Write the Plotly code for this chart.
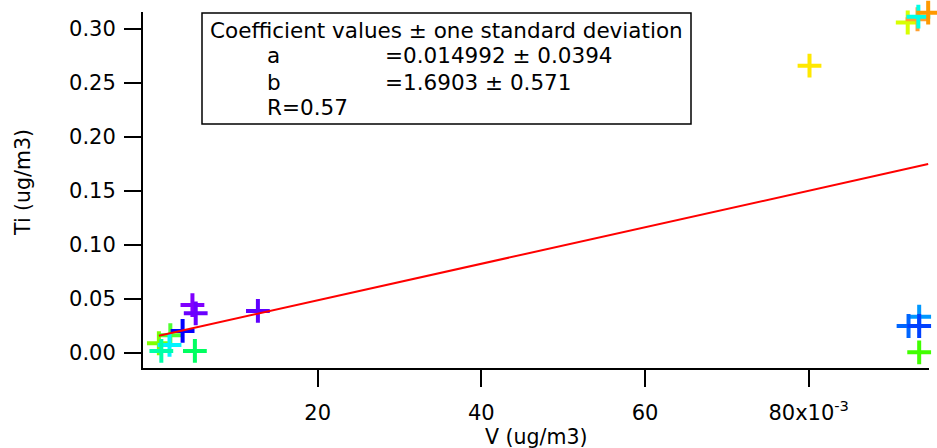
import plotly.graph_objects as go

# Measured concentrations (ug/m3)
v_ugm3 = [0.0006, 0.0020, 0.0019, 0.0009, 0.0050, 0.0035, 0.0047, 0.0051, 0.0127,
          0.0801, 0.0921, 0.0933, 0.0934, 0.0946,
          0.0935, 0.0922, 0.0935, 0.0935]
ti_ugm3 = [0.0090, 0.0165, 0.0075, 0.0019, 0.0019, 0.0204, 0.0444, 0.0367, 0.0389,
           0.2660, 0.3060, 0.3090, 0.3114, 0.3151,
           0.0336, 0.0250, 0.0250, 0.0006]
point_colors = ["#80ff00", "#50ff30", "#00f4ff", "#00ffa8", "#00ff60", "#0000ff", "#8000ff", "#6a00ff", "#6000ff",
                "#ffe800", "#d8ff00", "#ffa030", "#00ffe8", "#ff9900",
                "#0098ff", "#0066ff", "#0040ff", "#40ff00"]

# Linear fit  Ti = a + b * V
fit_a, fit_a_sd = 0.014992, 0.0394
fit_b, fit_b_sd = 1.6903, 0.571
fit_r = 0.57

x_ticks = [0.02, 0.04, 0.06, 0.08]
x_tick_text = ["20", "40", "60", "80x10<sup>-3</sup>"]
y_ticks = [0.00, 0.05, 0.10, 0.15, 0.20, 0.25, 0.30]

W, H = 937, 448
ML, MR, MT, MB = 143, 8, 12, 80
FONT = "DejaVu Sans"


def px(x):
    return (x - ML) / (W - ML - MR)


def py(y):
    return (H - MB - y) / (H - MT - MB)


fig = go.Figure()

fig.add_trace(go.Scatter(
    x=v_ugm3, y=ti_ugm3, mode="markers",
    marker=dict(symbol="cross-thin", size=17,
                line=dict(width=4, color=point_colors)),
    cliponaxis=False, showlegend=False, hoverinfo="x+y",
))

x_fit = [min(v_ugm3), max(v_ugm3)]
y_fit = [fit_a + fit_b * x for x in x_fit]
fig.add_trace(go.Scatter(
    x=x_fit, y=y_fit, mode="lines",
    line=dict(color="#ff0000", width=2),
    showlegend=False, hoverinfo="skip",
))

axis_common = dict(
    showline=True, linecolor="black", linewidth=2,
    ticks="outside", ticklen=17, tickwidth=2, tickcolor="black",
    showgrid=False, zeroline=False, mirror=False,
    tickfont=dict(family=FONT, size=21, color="black"),
)
fig.update_xaxes(range=[-0.00134, 0.0947], tickvals=x_ticks, ticktext=x_tick_text,
                 ticklabelstandoff=8, **axis_common)
fig.update_yaxes(range=[-0.0139, 0.3157], tickvals=y_ticks, tickformat=".2f",
                 ticklabelstandoff=4, **axis_common)

# Coefficient box
fig.add_shape(type="rect", xref="paper", yref="paper",
              x0=px(202), x1=px(691), y0=py(124), y1=py(13),
              line=dict(color="black", width=1.5), fillcolor="white", layer="above")

box_font = dict(family=FONT, size=21.5, color="black")
box_lines = [
    ("Coefficient values ± one standard deviation", 208, 31),
    ("a", 265, 56),
    (f"={fit_a:g} ± {fit_a_sd:g}", 383, 56),
    ("b", 265, 82),
    (f"={fit_b:g} ± {fit_b_sd:g}", 383, 82),
    (f"R={fit_r:g}", 265, 107.5),
]
for text, x, y in box_lines:
    fig.add_annotation(text=text, xref="paper", yref="paper", x=px(x), y=py(y),
                       xanchor="left", yanchor="middle", showarrow=False,
                       font=box_font)

title_font = dict(family=FONT, size=20.5, color="black")
fig.add_annotation(text="V (ug/m3)", xref="paper", yref="paper", x=px(536), y=py(437),
                   xanchor="center", yanchor="middle", showarrow=False, font=title_font)
fig.add_annotation(text="Ti (ug/m3)", xref="paper", yref="paper", x=px(23), y=py(183),
                   xanchor="center", yanchor="middle", showarrow=False, textangle=-90,
                   font=title_font)

fig.update_layout(
    width=W, height=H,
    margin=dict(l=ML, r=MR, t=MT, b=MB),
    paper_bgcolor="white", plot_bgcolor="white",
    font=dict(family=FONT, color="black"),
)

fig.write_html("out.html")
